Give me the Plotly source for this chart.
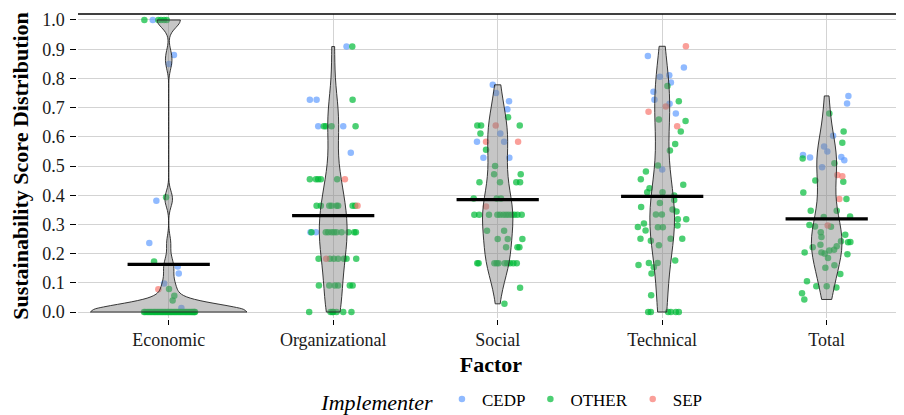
import numpy as np
import plotly.graph_objects as go

# ---------------- data ----------------
factors = ["Economic", "Organizational", "Social", "Technical", "Total"]
factor_means = [0.163, 0.330, 0.385, 0.396, 0.319]
implementers = ["CEDP", "OTHER", "SEP"]
implementer_codes = {"C": "CEDP", "O": "OTHER", "S": "SEP"}
implementer_colors = {"CEDP": "#619CFF", "OTHER": "#00BA38", "SEP": "#F8766D"}

economic_scores = [1.0, 1.0, 1.0, 1.0, 1.0, 1.0, 0.880, 0.849, 0.393, 0.381, 0.236, 0.173,
                   0.156, 0.132, 0.098, 0.078, 0.079, 0.056, 0.039, 0.014] + [0.0] * 39
economic_jitter = [-0.148, -0.097, -0.063, -0.047, -0.028, -0.012, 0.032, 0.002, -0.016, -0.075,
                   -0.118, -0.089, 0.055, 0.061, -0.028, -0.063, 0.002, 0.034, 0.024, 0.077,
                   -0.150, -0.142, -0.131, -0.122, -0.113, -0.104, -0.095, -0.086, -0.078, -0.069,
                   -0.061, -0.052, -0.044, -0.036, -0.027, -0.019, -0.010, -0.003, 0.006, 0.014,
                   0.022, 0.031, 0.039, 0.047, 0.056, 0.064, 0.072, 0.080, 0.089, 0.097,
                   0.105, 0.113, 0.121, 0.129, 0.137, 0.144, 0.150, 0.156, 0.160]
economic_group = ["O", "C", "O", "O", "O", "O", "C", "C", "O", "C", "C", "O",
                  "C", "C", "C", "S", "O", "O", "O", "C"] + ["O"] * 39

organizational_scores = [0.909, 0.909,
                         0.727, 0.727, 0.727,
                         0.636, 0.636, 0.636, 0.636, 0.636, 0.636,
                         0.545,
                         0.455, 0.455, 0.455, 0.455, 0.455, 0.455,
                         0.364, 0.364, 0.364, 0.364, 0.364, 0.364, 0.364, 0.364, 0.364,
                         0.273, 0.273, 0.273, 0.273, 0.273, 0.273, 0.273, 0.273, 0.273, 0.273, 0.273, 0.273,
                         0.182, 0.182, 0.182, 0.182, 0.182, 0.182, 0.182, 0.182,
                         0.091, 0.091, 0.091, 0.091, 0.091, 0.091,
                         0.0, 0.0, 0.0, 0.0, 0.0, 0.0, 0.0]
organizational_jitter = [0.081, 0.116,
                         -0.142, -0.101, 0.118,
                         -0.091, -0.057, -0.045, -0.010, 0.061, 0.136,
                         0.107,
                         -0.142, -0.105, -0.091, -0.075, 0.024, 0.071,
                         -0.101, -0.075, -0.024, -0.010, 0.020, 0.118, 0.134, 0.148, 0.030,
                         -0.138, -0.105, -0.132, -0.045, -0.010, 0.020, 0.051, 0.093, 0.128, 0.138, -0.030, 0.005,
                         -0.089, -0.043, 0.004, 0.065, 0.081, 0.140, -0.020, 0.030,
                         -0.087, -0.024, 0.030, 0.101, 0.118, 0.010,
                         -0.146, -0.016, 0.0, 0.061, 0.111, -0.005, 0.020]
organizational_group = ["C", "O",
                        "C", "C", "O",
                        "C", "O", "O", "O", "C", "O",
                        "C",
                        "O", "O", "O", "O", "O", "S",
                        "O", "O", "O", "O", "O", "O", "O", "S", "O",
                        "C", "C", "O", "O", "O", "O", "O", "O", "O", "O", "O", "O",
                        "O", "S", "O", "O", "O", "O", "O", "O",
                        "O", "O", "O", "O", "O", "O",
                        "O", "O", "O", "O", "O", "O", "O"]

social_scores = [0.778, 0.750, 0.722, 0.694, 0.667,
                 0.639, 0.639, 0.639, 0.639,
                 0.611, 0.611,
                 0.583, 0.583, 0.583, 0.583,
                 0.556, 0.528, 0.528, 0.500, 0.472, 0.472,
                 0.444, 0.444, 0.444, 0.444,
                 0.389, 0.389, 0.389, 0.361,
                 0.333, 0.333, 0.333, 0.333, 0.333, 0.333, 0.333, 0.333, 0.333, 0.333, 0.333, 0.333,
                 0.278, 0.278, 0.250, 0.250, 0.250,
                 0.222, 0.222, 0.222,
                 0.167, 0.167, 0.167, 0.167, 0.167, 0.167, 0.167, 0.167, 0.167, 0.167,
                 0.083, 0.028]
social_jitter = [-0.030, -0.010, 0.069, 0.059, 0.063,
                 -0.124, -0.101, -0.012, 0.134,
                 -0.105, 0.016,
                 -0.126, -0.071, 0.039, 0.124,
                 -0.071, -0.087, 0.071, -0.016, -0.022, 0.140,
                 -0.111, 0.014, 0.113, 0.136,
                 -0.146, -0.006, 0.020, -0.071,
                 -0.142, -0.113, -0.053, -0.002, 0.014, 0.034, 0.051, 0.067, 0.085, 0.101, 0.120, 0.146,
                 -0.065, 0.039, 0.061, 0.150, 0.000,
                 0.051, 0.120, 0.132,
                 -0.124, -0.116, -0.006, 0.043, 0.059, 0.075, 0.095, 0.116, -0.020, 0.005,
                 0.136, 0.041]
social_group = ["C", "C", "C", "C", "O",
                "O", "O", "S", "O",
                "O", "C",
                "C", "S", "C", "S",
                "O", "C", "C", "O", "O", "O",
                "O", "O", "O", "O",
                "O", "O", "O", "S",
                "O", "O", "O", "O", "O", "O", "O", "O", "O", "O", "O", "O",
                "O", "O", "O", "O", "O",
                "O", "O", "O",
                "O", "O", "O", "O", "O", "O", "O", "O", "O", "O",
                "O", "O"]

technical_scores = [0.910, 0.877, 0.837, 0.806, 0.811, 0.786, 0.774, 0.754, 0.727, 0.722,
                    0.713, 0.704, 0.686, 0.680, 0.654, 0.659, 0.636, 0.618, 0.575, 0.553,
                    0.502, 0.488, 0.481, 0.455, 0.436, 0.424, 0.410, 0.410, 0.399, 0.384,
                    0.373, 0.360, 0.351, 0.344, 0.334, 0.334, 0.318, 0.318, 0.303, 0.291,
                    0.290, 0.290, 0.296, 0.279, 0.251, 0.244, 0.251, 0.251, 0.229, 0.176,
                    0.168, 0.168, 0.161, 0.153, 0.132, 0.057, 0.0, 0.0, 0.0, 0.0, 0.0, 0.0]
technical_jitter = [0.144, -0.087, 0.132, -0.014, 0.043, 0.053, 0.032, -0.053, -0.047, 0.101,
                    0.045, 0.022, -0.083, 0.083, 0.142, -0.020, 0.091, 0.113, 0.079, 0.047,
                    -0.026, 0.000, -0.099, -0.130, 0.128, -0.077, -0.091, 0.002, 0.073, 0.073,
                    -0.014, -0.128, 0.063, 0.087, -0.038, -0.002, 0.095, 0.146, -0.111, -0.148,
                    -0.026, 0.004, 0.093, -0.101, -0.132, -0.069, 0.051, 0.122, -0.020, 0.079,
                    -0.081, -0.028, -0.144, -0.051, -0.065, -0.067, -0.085, -0.069, 0.036, 0.053,
                    0.083, 0.101]
technical_group = ["S", "C", "C", "C", "C", "C", "O", "C", "C", "O",
                   "C", "S", "S", "C", "O", "O", "S", "O", "O", "O",
                   "O", "C", "O", "O", "O", "O", "O", "O", "O", "O",
                   "O", "O", "O", "O", "O", "O", "O", "O", "O", "O",
                   "O", "O", "O", "O", "O", "O", "O", "O", "O", "O",
                   "O", "O", "O", "O", "O", "O", "O", "O", "O", "O",
                   "O", "O"]

total_scores = [0.740, 0.714, 0.680, 0.618, 0.604, 0.580, 0.567, 0.550, 0.538, 0.526,
                0.529, 0.531, 0.520, 0.509, 0.496, 0.469, 0.465, 0.450, 0.446, 0.409,
                0.387, 0.387, 0.347, 0.347, 0.325, 0.327, 0.298, 0.296, 0.292, 0.293,
                0.273, 0.265, 0.257, 0.242, 0.239, 0.240, 0.230, 0.225, 0.222, 0.213,
                0.204, 0.204, 0.211, 0.200, 0.198, 0.185, 0.160, 0.152, 0.130, 0.105,
                0.088, 0.088, 0.084, 0.064, 0.043]
total_jitter = [0.132, 0.124, 0.016, 0.103, 0.039, 0.095, -0.016, 0.004, -0.144, -0.146,
                -0.101, 0.089, 0.107, 0.047, -0.028, 0.065, 0.095, -0.069, 0.101, -0.142,
                0.077, 0.120, -0.097, 0.061, -0.018, 0.142, -0.105, 0.006, 0.026, -0.071,
                -0.036, 0.113, -0.032, 0.087, 0.130, 0.144, -0.038, 0.061, -0.085, 0.045,
                -0.134, -0.032, 0.016, -0.012, 0.126, 0.008, 0.047, -0.008, 0.083, -0.120,
                -0.063, 0.000, 0.059, -0.150, -0.136]
total_group = ["C", "C", "O", "O", "C", "O", "C", "C", "C", "O",
               "C", "C", "C", "O", "C", "S", "S", "O", "O", "O",
               "S", "O", "O", "O", "O", "O", "O", "S", "O", "O",
               "O", "O", "O", "O", "O", "O", "O", "O", "O", "O",
               "O", "O", "O", "O", "O", "O", "O", "O", "O", "O",
               "O", "O", "O", "O", "O"]

y_ticks = [0.0, 0.1, 0.2, 0.3, 0.4, 0.5, 0.6, 0.7, 0.8, 0.9, 1.0]
y_tick_labels = ["0.0", "0.1", "0.2", "0.3", "0.4", "0.5", "0.6", "0.7", "0.8", "0.9", "1.0"]

factor_data = [
    (economic_scores, economic_jitter, economic_group),
    (organizational_scores, organizational_jitter, organizational_group),
    (social_scores, social_jitter, social_group),
    (technical_scores, technical_jitter, technical_group),
    (total_scores, total_jitter, total_group),
]


def nrd0(values):
    v = np.asarray(values, dtype=float)
    sd = v.std(ddof=1)
    q75, q25 = np.percentile(v, [75, 25])
    lo = min(sd, (q75 - q25) / 1.34)
    if lo <= 0:
        lo = sd if sd > 0 else 1.0
    return 0.9 * lo * len(v) ** -0.2


FONT = "Liberation Serif"
fig = go.Figure()

# jittered points (drawn underneath the violins)
for imp in implementers:
    xs, ys = [], []
    for i, (scores, jit, grp) in enumerate(factor_data):
        for s, j, g in zip(scores, jit, grp):
            if implementer_codes[g] == imp:
                xs.append(i + 1 + j)
                ys.append(s)
    fig.add_trace(go.Scatter(
        x=xs, y=ys, mode="markers", name=imp,
        marker=dict(size=6.5, color=implementer_colors[imp], opacity=0.7, line=dict(width=0)),
        zorder=0, hoverinfo="skip",
    ))

# violins: width left automatic so that the shared scale group applies
for i, (scores, jit, grp) in enumerate(factor_data):
    fig.add_trace(go.Violin(
        x=[i + 1] * len(scores), y=scores, orientation="v",
        scalegroup="all", scalemode="count", spanmode="hard",
        bandwidth=nrd0(scores), points=False,
        fillcolor="rgba(128,128,128,0.45)", line=dict(color="#222222", width=0.9),
        box_visible=False, meanline_visible=False, showlegend=False,
        hoverinfo="skip", zorder=1,
    ))

# mean bars
for i, m in enumerate(factor_means):
    fig.add_trace(go.Scatter(
        x=[i + 1 - 0.25, i + 1 + 0.25], y=[m, m], mode="lines",
        line=dict(color="black", width=3.2), showlegend=False, hoverinfo="skip", zorder=2,
    ))

# The page body adds an 8px offset; the figure is sized so it ends at the window edge.
fig.update_layout(
    width=896, height=407,
    margin=dict(l=70, r=0, t=6, b=97, autoexpand=False),
    paper_bgcolor="white", plot_bgcolor="white",
    font=dict(family=FONT, color="black", size=18),
    violinmode="overlay", violingap=0, violingroupgap=0,
    showlegend=True,
    xaxis=dict(
        range=[0.4486, 5.47], tickmode="array", tickvals=[1, 2, 3, 4, 5], ticktext=factors,
        showgrid=True, gridcolor="#d3d3d3", gridwidth=1, zeroline=False,
        showline=True, linecolor="black", linewidth=1.5, mirror=False,
        ticks="outside", ticklen=5, tickcolor="black", tickwidth=1,
        tickfont=dict(family=FONT, size=18, color="#1a1a1a"),
        automargin=False,
        title=dict(text="<b>Factor</b>", font=dict(family=FONT, size=22, color="black"), standoff=7),
    ),
    yaxis=dict(
        range=[-0.0205, 1.0205], tickmode="array", tickvals=y_ticks, ticktext=y_tick_labels,
        showgrid=True, gridcolor="#d3d3d3", gridwidth=1, zeroline=False,
        showline=True, linecolor="black", linewidth=1.5, mirror=False,
        ticks="outside", ticklen=6, tickcolor="black", tickwidth=1, ticklabelstandoff=2,
        tickfont=dict(family=FONT, size=18, color="#1a1a1a"),
        automargin=False,
        title=dict(text="<b>Sustainability Score Distribution</b>",
                   font=dict(family=FONT, size=22, color="black"), standoff=11),
    ),
    legend=dict(
        orientation="h", x=0.527, xanchor="center", y=-0.273, yanchor="middle",
        title=dict(text="<i>Implementer</i>", font=dict(family=FONT, size=22, color="black")),
        font=dict(family=FONT, size=17, color="black"),
        itemsizing="trace", bgcolor="rgba(0,0,0,0)",
    ),
    shapes=[dict(type="line", xref="paper", yref="paper", x0=0, x1=1, y0=1, y1=1,
                 line=dict(color="black", width=1.5), layer="above")],
)

fig.write_html("out.html")
